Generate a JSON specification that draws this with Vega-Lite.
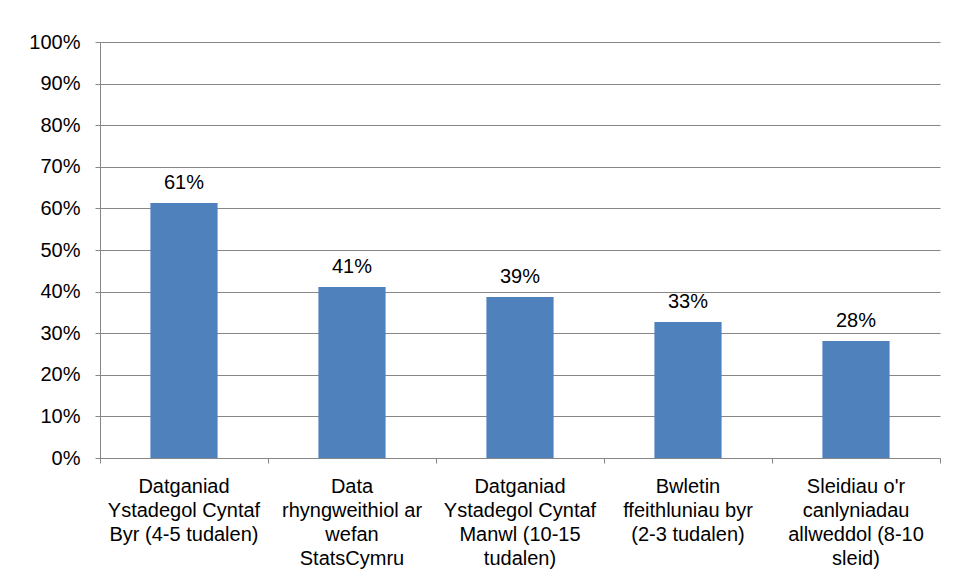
{
  "$schema": "https://vega.github.io/schema/vega-lite/v6.json",
  "width": 840,
  "height": 416,
  "autosize": {"type": "none"},
  "padding": {"left": 100, "top": 42, "right": 17, "bottom": 122},
  "background": "white",
  "data": {
    "values": [
      {"category": "Datganiad|Ystadegol Cyntaf|Byr (4-5 tudalen)", "value": 0.613},
      {"category": "Data|rhyngweithiol ar|wefan|StatsCymru", "value": 0.411},
      {"category": "Datganiad|Ystadegol Cyntaf|Manwl (10-15|tudalen)", "value": 0.387},
      {"category": "Bwletin|ffeithluniau byr|(2-3 tudalen)", "value": 0.327},
      {"category": "Sleidiau o'r|canlyniadau|allweddol (8-10|sleid)", "value": 0.281}
    ]
  },
  "encoding": {
    "x": {
      "field": "category",
      "type": "nominal",
      "sort": null,
      "scale": {"paddingInner": 0, "paddingOuter": 0},
      "axis": {
        "title": null,
        "labelAngle": 0,
        "labelExpr": "split(datum.label, '|')",
        "bandPosition": 1,
        "tickExtra": true,
        "grid": false,
        "tickSize": 5,
        "labelPadding": 13,
        "labelLineHeight": 24,
        "labelFontSize": 20,
        "labelFont": "Liberation Sans",
        "labelColor": "#000000",
        "labelBaseline": "top",
        "labelLimit": 300,
        "labelOverlap": false,
        "domainColor": "#868686",
        "tickColor": "#868686"
      }
    },
    "y": {
      "field": "value",
      "type": "quantitative",
      "scale": {"domain": [0, 1], "nice": false},
      "axis": {
        "title": null,
        "format": ".0%",
        "values": [0, 0.1, 0.2, 0.3, 0.4, 0.5, 0.6, 0.7, 0.8, 0.9, 1],
        "grid": true,
        "gridColor": "#868686",
        "gridOpacity": 1,
        "tickSize": 5,
        "labelPadding": 15,
        "labelFontSize": 20,
        "labelFont": "Liberation Sans",
        "labelColor": "#000000",
        "domainColor": "#868686",
        "tickColor": "#868686"
      }
    }
  },
  "layer": [
    {"mark": {"type": "bar", "width": {"band": 0.4}, "color": "#4F81BD"}},
    {
      "mark": {"type": "text", "dy": -14, "baseline": "alphabetic", "fontSize": 20, "font": "Liberation Sans", "color": "#000000"},
      "encoding": {"text": {"field": "value", "type": "quantitative", "format": ".0%"}}
    }
  ],
  "config": {"view": {"stroke": null}}
}
